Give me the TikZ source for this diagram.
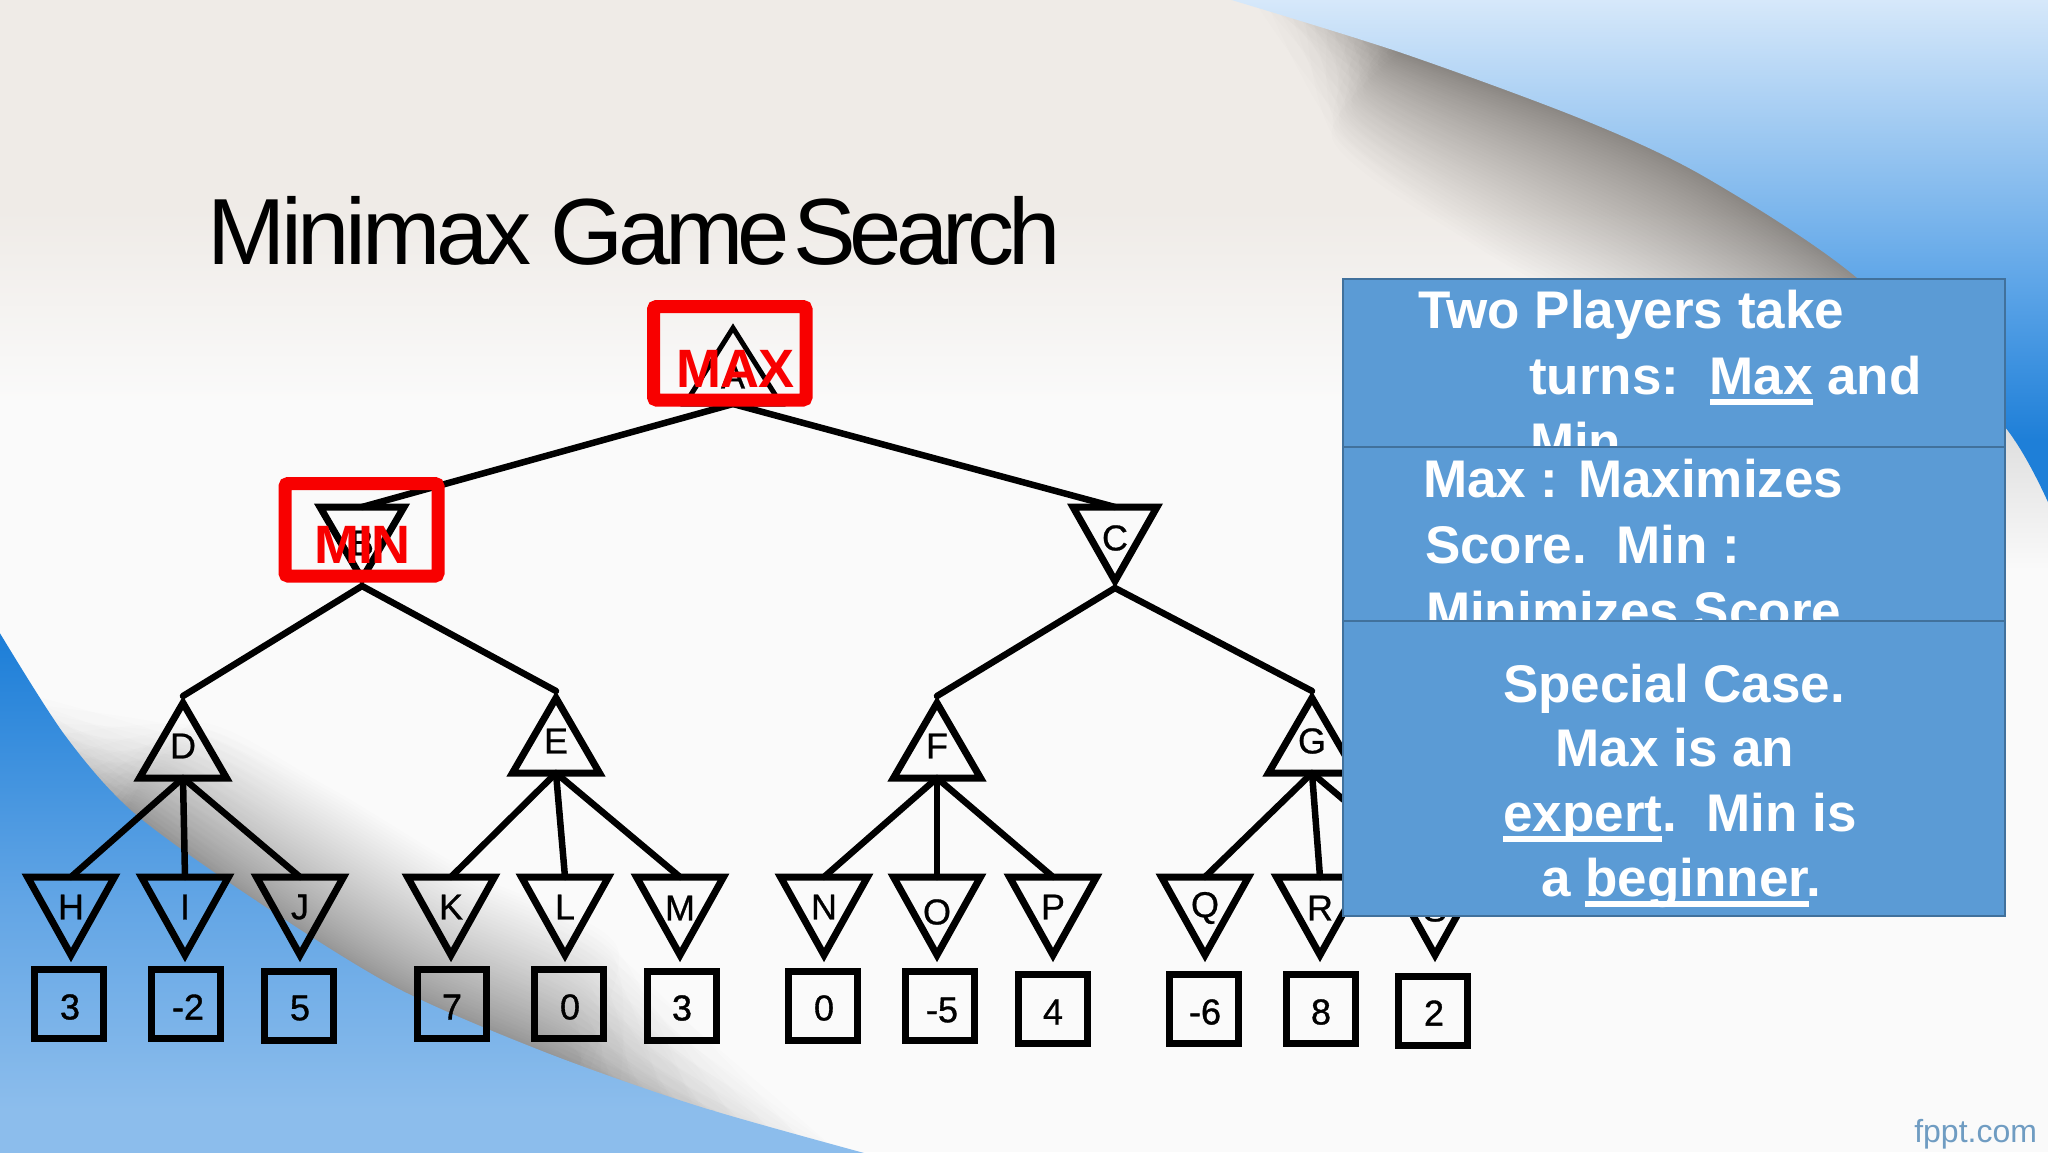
\documentclass[tikz,border=0pt]{standalone}
\usepackage{fontspec}
\setmainfont{Liberation Sans}
\usetikzlibrary{calc}
\definecolor{boxfill}{HTML}{5B9BD5}
\definecolor{boxline}{HTML}{41719C}
\definecolor{redbox}{HTML}{F80000}
\definecolor{paper}{HTML}{FAFAFA}
\definecolor{beige}{HTML}{EFEBE7}
\definecolor{skyA}{HTML}{D6E8FA}
\definecolor{skyB}{HTML}{5FA6E8}
\definecolor{skyC}{HTML}{1E7FD8}
\definecolor{lowA}{HTML}{1E7FD8}
\definecolor{lowM}{HTML}{62A5E5}
\definecolor{lowB}{HTML}{8CBDEC}
\definecolor{markgrey}{HTML}{6F9CC2}
\definecolor{sliver}{HTML}{DCDCDC}
\newlength\ulw
\newcommand\ulx[1]{\settowidth\ulw{#1}\rlap{\rule[-10pt]{\ulw}{6pt}}#1}
\newcommand\panelfont{\fontsize{53}{60}\selectfont\bfseries}
\tikzset{
  every node/.style={inner sep=0pt,outer sep=0pt},
  edge/.style={draw=black,line width=6.5pt,line cap=round},
  tri/.style={draw=black,line width=7pt,line join=miter,miter limit=10},
  leaf/.style={draw=black,line width=7pt,rectangle,minimum width=69pt,minimum height=69pt},
  letter/.style={font=\fontsize{36}{40}\selectfont\addfontfeatures{FakeBold=0.7},text=black},
  digit/.style={font=\fontsize{36}{40}\selectfont\addfontfeatures{FakeBold=1.0},text=black},
  panel/.style={rectangle,fill=boxfill,draw=boxline,line width=2.5pt,anchor=north west},
  say/.style={text=white,font=\panelfont,anchor=base west},
  sayc/.style={text=white,font=\panelfont,anchor=base},
  redmark/.style={draw=redbox,line width=13pt,rounded corners=3pt},
  redword/.style={text=redbox,font=\fontsize{54}{60}\selectfont\bfseries\addfontfeatures{LetterSpace=-2.5},anchor=center},
}
\newcommand\upnode[6][43.5]{%
  \node[letter] (#2) at (#3,#4) {#5};
  \coordinate (#2-tip) at (#3,#6-75);
  \coordinate (#2-out) at (#3,#6-82);
  \coordinate (#2-base) at (#3,#6);
  \coordinate (#2-l) at (#3-#1,#6);
  \coordinate (#2-r) at (#3+#1,#6);
}
\newcommand\downnode[6][43.5]{%
  \node[letter] (#2) at (#3,#4) {#5};
  \coordinate (#2-base) at (#3,#6);
  \coordinate (#2-tip) at (#3,#6+78);
  \coordinate (#2-out) at (#3,#6+85);
  \coordinate (#2-l) at (#3-#1,#6);
  \coordinate (#2-r) at (#3+#1,#6);
}
\newcommand\tridraw[1]{\draw[tri] (#1-l) -- (#1-r) -- (#1-tip) -- cycle;}
\begin{document}
\begin{tikzpicture}[x=1pt,y=-1pt]
\useasboundingbox (0,0) rectangle (2048,1152);
% ------ background
\fill[paper] (0,0) rectangle (2048,1152);
\fill[beige] (0,0) rectangle (2048,210);
\shade[top color=beige,bottom color=paper] (0,210) rectangle (2048,400);
\shade[top color=sliver,bottom color=paper] (2000,420) rectangle (2048,570);
% soft shadows under the sweeps: nested bands; the outer rim lies under the blue
\foreach \t in {0.02,0.04,...,1.0}{
  \pgfmathsetmacro\k{\t^1.2}
  \pgfmathsetmacro\s{mod(\t*31,1)}
  \pgfmathsetmacro\u{mod(\t*19,1)}
  \pgfmathsetmacro\sx{1240+177*\s}
  \pgfmathsetmacro\sy{-15+55*\s}
  \fill[black,opacity=0.0075] plot[smooth] coordinates {(\sx,\sy) (1420,38) (1600,105) (1720,162) (1870,262) (1975,365)}
    -- plot[smooth] coordinates {({1960-\k*60},{380+\k*70}) ({1856-\k*115},{277+\k*115}) ({1705-\k*120},{177+\k*130}) ({1584-\k*110},{120+\k*125}) ({1402-\k*70},{53+\k*85}) (\sx,\sy)} -- cycle;
  \pgfmathsetmacro\ax{5+114*\s}
  \pgfmathsetmacro\ay{685+143*\s}
  \pgfmathsetmacro\ex{900-330*\u}
  \pgfmathsetmacro\ey{1190-115*\u}
  \fill[black,opacity=0.0075] plot[smooth] coordinates {(\ax,\ay) (119,828) (240,915) (380,1002) (527,1066) (\ex,\ey)}
    -- plot[smooth] coordinates {(\ex,\ey) ({542+\k*75},{1051-\k*105}) ({395+\k*75},{987-\k*115}) ({255+\k*70},{900-\k*115}) ({134+\k*60},{813-\k*90}) (\ax,\ay)} -- cycle;
}
% top-right blue sweep
\begin{scope}
\clip plot[smooth] coordinates {(1225,-2) (1402,53) (1584,120) (1705,177) (1856,277) (2005,427) (2060,530)} -- (2060,-5) -- cycle;
\shade[top color=skyA,bottom color=skyB] (1200,0) rectangle (2060,280);
\shade[top color=skyB,bottom color=skyC] (1200,280) rectangle (2060,440);
\fill[skyC] (1200,440) rectangle (2060,540);
\end{scope}
% bottom-left blue sweep
\begin{scope}
\clip plot[smooth] coordinates {(-5,625) (64,734) (134,813) (255,900) (395,987) (542,1051) (701,1107) (890,1160)} -- (-5,1160) -- cycle;
\shade[top color=lowA,bottom color=lowM] (-5,640) rectangle (900,900);
\shade[top color=lowM,bottom color=lowB] (-5,900) rectangle (900,1110);
\fill[lowB] (-5,1110) rectangle (900,1160);
\fill[lowA] (-5,620) rectangle (900,640);
\end{scope}
% ------ title
\node[anchor=base west,font=\fontsize{94}{100}\selectfont\addfontfeatures{LetterSpace=-4.5},text=black] (title) at (207,264) {Minimax\hspace{-0.03em} {\addfontfeatures{LetterSpace=-5.8}Game}\hspace{-0.2em} {\addfontfeatures{LetterSpace=-6.4}Search}};
% ------ tree coordinates and letters
\node[letter] (A) at (733,376) {A};
\coordinate (A-tip) at (733,328);
\coordinate (A-base) at (733,404);
\coordinate (A-l) at (685,404);
\coordinate (A-r) at (781,404);
\downnode[42]{B}{362}{543}{B}{507}
\downnode[42]{C}{1115}{538}{C}{507}
\coordinate (B-tip) at (362,579);
\coordinate (C-tip) at (1115,581);
\coordinate (B-out) at (362,586);
\coordinate (C-out) at (1115,588);
\upnode{D}{183}{746}{D}{778}
\upnode{E}{556}{741}{E}{773}
\upnode{F}{937}{746}{F}{778}
\upnode{G}{1312}{741}{G}{773}
\downnode{H}{71}{907}{H}{877}
\downnode{I}{185}{907}{I}{877}
\downnode{J}{300}{907}{J}{877}
\downnode{K}{451}{907}{K}{877}
\downnode{L}{565}{907}{L}{877}
\downnode{M}{680}{908}{M}{877}
\downnode{N}{824}{907}{N}{877}
\downnode{O}{937}{912}{O}{877}
\downnode{P}{1053}{907}{P}{877}
\downnode{Q}{1205}{908}{Q}{877}
\downnode{R}{1320}{908}{R}{877}
\downnode{S}{1435}{909}{S}{877}
% ------ connectors
\draw[edge] (A-base) -- (B-base);
\draw[edge] (A-base) -- (C-base);
\draw[edge] (B-out) -- (D-out);
\draw[edge] (B-out) -- (E-out);
\draw[edge] (C-out) -- (F-out);
\draw[edge] (C-out) -- (G-out);
\foreach \p/\a/\b/\c in {D/H/I/J,E/K/L/M,F/N/O/P,G/Q/R/S}{
  \draw[edge] (\p-base) -- (\a-base);
  \draw[edge] (\p-base) -- (\b-base);
  \draw[edge] (\p-base) -- (\c-base);
}
% ------ triangles
\draw[tri,line width=5pt] (A-l) -- (A-r) -- (A-tip) -- cycle;
\foreach \n in {B,C,D,E,F,G,H,I,J,K,L,M,N,O,P,Q,R,S}{\tridraw{\n}}
% ------ leaves
\node[leaf] (v1) at (69,1004) {};  \node[digit] (d1) at (70,1007) {3};
\node[leaf] (v2) at (186,1004) {}; \node[digit] (d2) at (188,1007) {-2};
\node[leaf] (v3) at (299,1006) {}; \node[digit] (d3) at (300,1008) {5};
\node[leaf] (v4) at (452,1004) {}; \node[digit] (d4) at (452,1007) {7};
\node[leaf] (v5) at (569,1004) {}; \node[digit] (d5) at (570,1007) {0};
\node[leaf] (v6) at (682,1006) {}; \node[digit] (d6) at (682,1008) {3};
\node[leaf] (v7) at (823,1006) {}; \node[digit] (d7) at (824,1008) {0};
\node[leaf] (v8) at (940,1006) {}; \node[digit] (d8) at (942,1010) {-5};
\node[leaf] (v9) at (1053,1009) {}; \node[digit] (d9) at (1053,1012) {4};
\node[leaf] (v10) at (1204,1009) {}; \node[digit] (d10) at (1205,1012) {-6};
\node[leaf] (v11) at (1321,1009) {}; \node[digit] (d11) at (1321,1012) {8};
\node[leaf] (v12) at (1433,1011) {}; \node[digit] (d12) at (1434,1013) {2};
% ------ red marks
\draw[redmark] (653.5,306.5) rectangle (806,400);
\node[redword] (maxw) at (735.5,368.5) {MAX};
\draw[redmark] (285,483.5) rectangle (438,576);
\node[redword] (minw) at (362.5,545) {MIN};
% ------ panels (each covers the overflow of the previous one)
\node[panel,minimum width=662pt,minimum height=168pt] (p1) at (1343,279) {};
\node[say] (l1) at (1418,328.5) {Two Players take};
\node[say] (l2) at (1529,394.5) {turns:\ \ \hspace{1pt}\ulx{Max} and};
\node[say] (l3) at (1530,460.5) {Min};
\node[panel,minimum width=662pt,minimum height=174pt] (p2) at (1343,447) {};
\node[say] (l4) at (1423,497.5) {Max : Maximizes};
\node[say] (l5) at (1425,563.5) {Score.\ \ Min :};
\node[say] (l6) at (1426,629) {Minimizes Score};
\node[panel,minimum width=662pt,minimum height=295pt] (p3) at (1343,621) {};
\node[sayc] (l7) at (1674,702.5) {Special Case.};
\node[sayc] (l8) at (1675,766.5) {Max is an};
\node[sayc] (l9) at (1680,831.5) {\ulx{expert}.\ \ Min is};
\node[sayc] (l10) at (1681,896.5) {a \ulx{beginner}.};
\node[anchor=base east,font=\fontsize{32}{34}\selectfont,text=markgrey] (fppt) at (2037,1142) {fppt.com};
\end{tikzpicture}
\end{document}
